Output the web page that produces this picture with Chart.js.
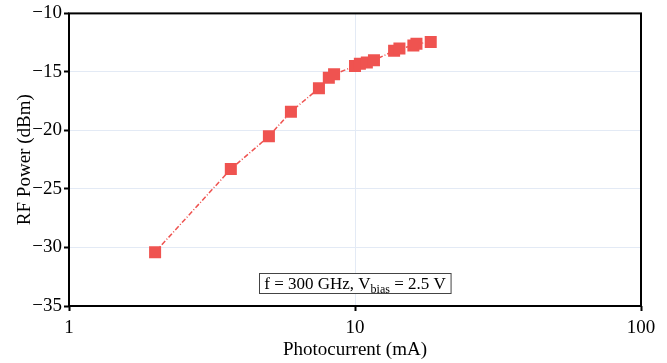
<!DOCTYPE html>
<html>
<head>
<meta charset="utf-8">
<script src="https://cdn.jsdelivr.net/npm/chart.js@4/dist/chart.umd.min.js"></script>
<style>
  html, body { margin: 0; padding: 0; background: #fff; }
  #wrap { width: 667px; height: 363px; position: relative; }
</style>
</head>
<body>
<div id="wrap"><canvas id="c"></canvas></div>
<script>
// photocurrent (mA) vs RF power (dBm)
const currents = [2.0, 3.68, 5.0, 5.97, 7.48, 8.1, 8.45, 10.0, 10.4, 11.0, 11.65, 13.7, 14.3, 16.0, 16.4, 18.4];
const powers   = [-30.4, -23.3, -20.5, -18.4, -16.4, -15.5, -15.2, -14.5, -14.3, -14.2, -14.0, -13.2, -13.0, -12.75, -12.6, -12.45];
const xTicks = [1, 10, 100];
const yTicks = [-35, -30, -25, -20, -15, -10];
const noteMain = 'f = 300 GHz, V';
const noteSub = 'bias';
const noteTail = ' = 2.5 V';

const RED = '#EF5350';
const SERIF = '"Liberation Serif", "DejaVu Serif", serif';

// black frame round the plot area plus the annotation box
const framePlugin = {
  id: 'frame',
  afterDraw(chart) {
    const { ctx, chartArea: a } = chart;
    ctx.save();
    ctx.strokeStyle = '#000';
    ctx.lineWidth = 2;
    ctx.strokeRect(a.left, a.top, a.right - a.left, a.bottom - a.top);

    // annotation
    const cx = chart.scales.x.getPixelForValue(10);
    const cy = 283;
    ctx.font = '17px ' + SERIF;
    const w1 = ctx.measureText(noteMain).width;
    ctx.font = '12px ' + SERIF;
    const w2 = ctx.measureText(noteSub).width;
    ctx.font = '17px ' + SERIF;
    const w3 = ctx.measureText(noteTail).width;
    const total = w1 + w2 + w3;
    const bw = total + 10, bh = 20;
    const bx = Math.round(cx - bw / 2), by = Math.round(cy - bh / 2);
    ctx.fillStyle = '#fff';
    ctx.fillRect(bx, by, bw, bh);
    ctx.strokeStyle = '#444';
    ctx.lineWidth = 1;
    ctx.strokeRect(bx + 0.5, by + 0.5, bw, bh);
    ctx.fillStyle = '#000';
    ctx.textBaseline = 'alphabetic';
    let tx = cx - total / 2;
    const base = cy + 6;
    ctx.font = '17px ' + SERIF;
    ctx.fillText(noteMain, tx, base);
    tx += w1;
    ctx.font = '12px ' + SERIF;
    ctx.fillText(noteSub, tx, base + 4);
    tx += w2;
    ctx.font = '17px ' + SERIF;
    ctx.fillText(noteTail, tx, base);
    ctx.restore();
  }
};

new Chart(document.getElementById('c'), {
  type: 'line',
  data: {
    datasets: [{
      data: currents.map((x, i) => ({ x, y: powers[i] })),
      borderColor: RED,
      backgroundColor: RED,
      borderWidth: 1.5,
      borderDash: [5, 2, 1, 2],
      pointStyle: 'rect',
      pointRadius: 8.5,
      pointHoverRadius: 8.5,
      pointBorderWidth: 0,
      tension: 0
    }]
  },
  options: {
    responsive: true,
    maintainAspectRatio: false,
    animation: false,
    layout: { padding: { top: 12, right: 26, left: 0, bottom: 0 } },
    plugins: { legend: { display: false }, tooltip: { enabled: false } },
    scales: {
      x: {
        type: 'logarithmic',
        min: 1, max: 100,
        afterBuildTicks: s => { s.ticks = xTicks.map(v => ({ value: v })); },
        afterFit: s => { s.height = 57; },
        border: { display: false },
        grid: { color: '#E3EAF5', lineWidth: 1, tickLength: 5, tickColor: '#000', tickWidth: 2 },
        ticks: {
          color: '#000', padding: 6, maxRotation: 0,
          font: { family: SERIF, size: 19 },
          callback: v => String(v)
        },
        title: { display: true, text: 'Photocurrent (mA)', color: '#000', padding: { top: 0, bottom: 2 }, font: { family: SERIF, size: 19 } }
      },
      y: {
        min: -35, max: -10,
        afterBuildTicks: s => { s.ticks = yTicks.map(v => ({ value: v })); },
        afterFit: s => { s.width = 69; },
        border: { display: false },
        grid: { color: '#E3EAF5', lineWidth: 1, tickLength: 5, tickColor: '#000', tickWidth: 2 },
        ticks: {
          color: '#000', padding: 2,
          font: { family: SERIF, size: 19 },
          callback: v => String(v).replace('-', '\u2212')
        },
        title: { display: true, text: 'RF Power (dBm)', color: '#000', padding: { top: 14, bottom: 0 }, font: { family: SERIF, size: 19 } }
      }
    }
  },
  plugins: [framePlugin]
});
</script>
</body>
</html>
